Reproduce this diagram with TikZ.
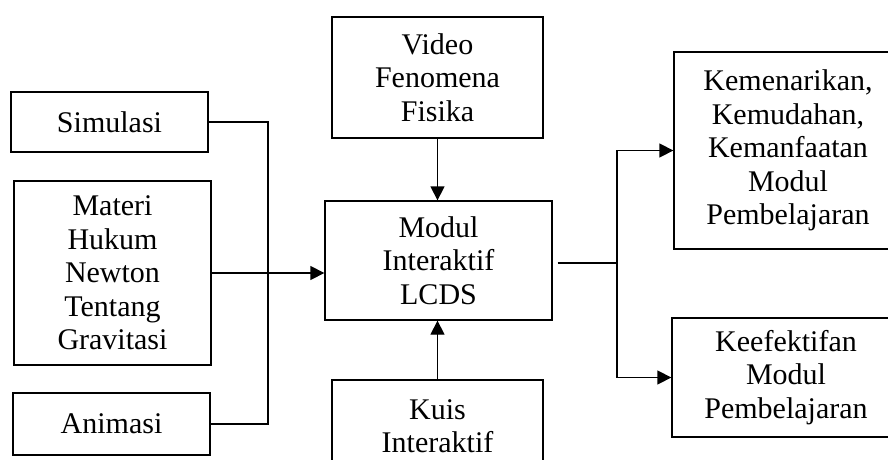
\documentclass[tikz,border=0pt]{standalone}
\usepackage{fontspec}
\setmainfont{Liberation Serif}
\usetikzlibrary{arrows.meta, positioning, calc}

\begin{document}
\begin{tikzpicture}[x=1pt,y=-1pt,
    box/.style={draw, line width=1.3pt, align=center, inner sep=0pt,
                font=\fontsize{30}{33.5}\selectfont},
    flow/.style={line width=1.3pt, -{Triangle[length=14pt,width=14pt]}},
    link/.style={line width=1.3pt}]
  \useasboundingbox (0,0) rectangle (888,460);
  \clip (0,0) rectangle (888,460);
  \fill[white] (0,0) rectangle (888,460);
  % left column
  \node[box, minimum width=197pt, minimum height=60pt]  (sim)    at (109.5,122)   {Simulasi};
  \node[box, minimum width=197pt, minimum height=184pt] (materi) at (112.5,273)   {Materi\\Hukum\\Newton\\Tentang\\Gravitasi};
  \node[box, minimum width=197pt, minimum height=62pt]  (anim)   at (111.5,424)   {Animasi};
  % middle column
  \node[box, minimum width=211pt, minimum height=121pt] (video)  at (437.5,77.5)  {Video\\Fenomena\\Fisika};
  \node[box, minimum width=227pt, minimum height=119pt] (modul)  at (438.5,260.5) {Modul\\Interaktif\\LCDS};
  \node[box, minimum width=211pt, minimum height=92pt]  (kuis)   at (437.5,426)   {Kuis\\Interaktif};
  % right column
  \node[box, minimum width=228pt, minimum height=197pt] (kem)    at (788,150.5)   {Kemenarikan,\\Kemudahan,\\Kemanfaatan\\Modul\\Pembelajaran};
  \node[box, minimum width=228pt, minimum height=119pt] (kee)    at (786,377.5)   {Keefektifan\\Modul\\Pembelajaran};

  % connectors
  \coordinate (bus) at (268,0);
  \draw[link] (sim.east) -- (sim.east -| bus) -- (anim.east -| bus) -- (anim.east);
  \draw[flow] (materi.east) -- (materi.east -| modul.west);
  \draw[flow] (video.south) -- (video.south |- modul.north);
  \draw[flow] (kuis.north) -- (kuis.north |- modul.south);
  \coordinate (fork) at (617,263);
  \draw[link] ($(modul.east)+(5,2.5)$) -- (fork);
  \draw[flow] (fork) |- (kem.west);
  \draw[flow] (fork) |- (kee.west);
\end{tikzpicture}
\end{document}
